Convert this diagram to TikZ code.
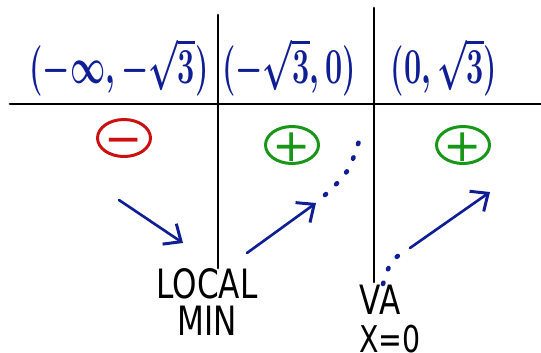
\documentclass[tikz,border=0pt]{standalone}
\usepackage{fontspec}
\setmainfont{DejaVu Sans}
\usepackage{graphicx}
\usetikzlibrary{arrows.meta,shapes.geometric}

\definecolor{penblue}{RGB}{16,30,150}
\definecolor{penred}{RGB}{204,16,16}
\definecolor{pengreen}{RGB}{24,150,24}

\newcommand{\hand}[1]{\scalebox{0.77}[1]{#1}}
\newcommand{\handmath}[1]{\scalebox{0.7}[1.15]{#1}}

\tikzset{
  ink/.style={line width=1.7pt, line cap=round},
  trend/.style={penblue, line width=1.5pt, line cap=round,
    -{Straight Barb[length=8pt,width=14pt,line width=1.7pt]}},
  trail/.style={penblue, line width=2.6pt, line cap=round, dash pattern=on 0.8pt off 8pt},
  signring/.style={ellipse, draw, line width=1.7pt, inner sep=0pt,
    minimum width=1.06cm, minimum height=0.74cm},
  signmark/.style={inner sep=0pt, text height=18.7pt, text depth=0pt,
    font=\fontsize{26}{26}\selectfont},
  interval/.style={penblue, inner sep=1pt, font=\fontsize{28}{30}\selectfont\boldmath},
  note/.style={inner sep=1pt, font=\fontsize{23}{21}\selectfont, align=center}
}

\begin{document}
\begin{tikzpicture}[x=0.02cm, y=-0.02cm]
\useasboundingbox (0,0) rectangle (541,352);

\def\yA{104}  
\def\xL{218}  
\def\xR{374}  

% sign chart frame
\draw[ink] (10,\yA) -- (541,\yA);
\draw[ink] (\xL,15) -- (\xL,268);
\draw[ink] (\xR,8) -- (\xR,282);

% intervals
\node[interval] (ivA) at (119,67) {\handmath{$(-\infty,-\sqrt{3})$}};
\node[interval] (ivB) at (289,67) {\handmath{$(-\sqrt{3},0)$}};
\node[interval] (ivC) at (444,67) {\handmath{$(0,\sqrt{3})$}};

% signs
\node[signring, penred]   (neg)  at (124,138) {};
\node[signring, pengreen] (posA) at (292,145) {};
\node[signring, pengreen] (posB) at (463,145) {};
\node[signmark, penred]   (negsign)  at (neg.center)  {−};
\node[signmark, pengreen] (posAsign) at (posA.center) {+};
\node[signmark, pengreen] (posBsign) at (posB.center) {+};

% behaviour arrows
\coordinate (downS) at (119,200);
\coordinate (downE) at (183,243);
\coordinate (upAS)  at (247,253);
\coordinate (upAE)  at (316,203);
\coordinate (dotAS) at (325,195);
\coordinate (dotAE) at (360,138);
\coordinate (dotBS) at (383,284);
\coordinate (dotBE) at (404,251);
\coordinate (upBS)  at (410,248);
\coordinate (upBE)  at (490,192);

\draw[trend] (downS) -- (downE);
\draw[trend] (upAS) -- (upAE);
\draw[trail] (dotAS) .. controls (349,172) .. (dotAE);
\draw[trail] (dotBS) .. controls (390,262) .. (dotBE);
\draw[trend] (upBS) -- (upBE);

% notes
\node[note] (locmin) at (207,302) {\hand{LOCAL}\\\hand{MIN}};
\node[note] (va)  at (380,300) {\hand{VA}};
\node[note, font=\fontsize{21}{21}\selectfont] (vax) at (390,339) {\hand{X=0}};

\end{tikzpicture}
\end{document}
